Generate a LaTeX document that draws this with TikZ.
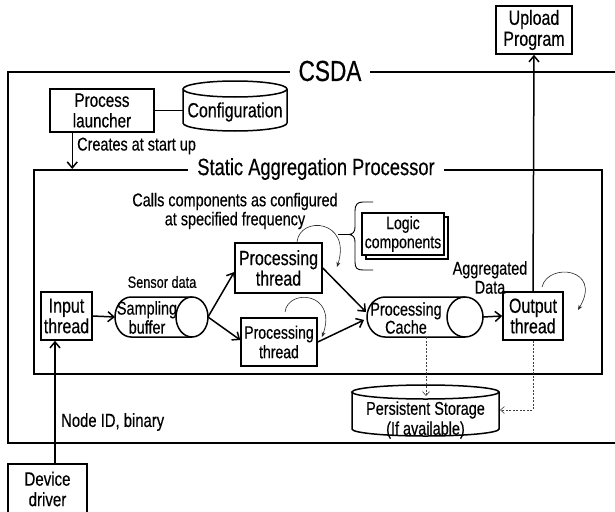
\documentclass[tikz,border=0pt]{standalone}
\usepackage{fontspec}
\setmainfont{Liberation Sans}[FakeStretch=0.78,FakeBold=0.4]
\usetikzlibrary{arrows.meta,calc}
\newcommand{\fsz}[2]{\fontsize{#1}{#2}\selectfont}
\begin{document}
\begin{tikzpicture}[x=1pt,y=-1pt,
  box/.style={draw, line width=1.5pt, fill=white, inner sep=0pt, align=center},
  frame/.style={draw, line width=2pt, inner sep=0pt},
  title/.style={fill=white, inner xsep=9pt, inner ysep=0pt},
  lbl/.style={inner sep=0pt, align=center},
  arr/.style={line width=1.5pt, -{Straight Barb[length=6pt,width=10pt]}},
  cyl/.style={line width=1.5pt},
  loopar/.style={line width=0.6pt, black!85, -{Stealth[length=5pt,width=4pt]}},
  dashar/.style={line width=0.6pt, black!75, dash pattern=on 2pt off 1.5pt, -{Straight Barb[length=4pt,width=7pt]}}
]
\useasboundingbox (0,0) rectangle (615,511);

% frames
\node[frame, minimum width=612pt, minimum height=371pt] (csda) at (314,257.5) {};
\node[frame, minimum width=568pt, minimum height=204pt] (sap) at (318,272) {};
\node[title, font=\fsz{29}{32}] (csdaT) at (330,71) {CSDA};
\node[title, font=\fsz{23.5}{26}] (sapT) at (316,169) {Static Aggregation Processor};

% process launcher and configuration
\node[box, minimum width=104pt, minimum height=43pt, font=\fsz{19.5}{20.5}] (launcher) at (102,110.5) {Process\\launcher};
\draw[cyl, fill=white] (183,89) -- (183,123) .. controls (183,127.4) and (206.3,131) .. (235,131) .. controls (263.7,131) and (287,127.4) .. (287,123) -- (287,89);
\draw[cyl] (235,89) ellipse [x radius=52, y radius=8];
\node[lbl, font=\fsz{20.5}{22}] (config) at (235,112) {Configuration};
\coordinate (cfgW) at (183,110.5);
\draw[line width=1.5pt] (launcher.east) -- (cfgW);

\coordinate (crA) at ([xshift=23pt]launcher.south west);
\draw[arr] (crA) -- (crA |- sap.north);
\node[lbl, anchor=west, font=\fsz{18.5}{20}] (creates) at (77,146) {Creates at start up};

\node[lbl, font=\fsz{18.5}{19}] (calls) at (235,211) {Calls components as configured\\at specified frequency};

% input thread
\node[box, minimum width=51pt, minimum height=48pt, font=\fsz{20.5}{20.5}] (input) at (66.5,316) {Input\\thread};

% sampling buffer
\draw[cyl] (192,297) -- (131,297) .. controls (122.2,297) and (115,306) .. (115,317) .. controls (115,328) and (122.2,337) .. (131,337) -- (192,337);
\draw[cyl] (192,317) ellipse [x radius=16, y radius=20];
\node[lbl, font=\fsz{18.5}{19}] (sbuf) at (147,317.5) {Sampling\\buffer};
\coordinate (sbW) at (115,317);
\coordinate (sbE) at (208,317);
\node[lbl, font=\fsz{16.3}{17}] (sensor) at (162,282) {Sensor data};

% processing threads
\node[box, minimum width=87pt, minimum height=50pt, font=\fsz{20.5}{20.5}] (pt1) at (278.5,268) {Processing\\thread};
\node[box, minimum width=76pt, minimum height=48pt, font=\fsz{18}{19.5}] (pt2) at (279,342) {Processing\\thread};

% logic components
\node[box, line width=1.2pt, minimum width=82pt, minimum height=42pt] (logicback) at (407,238) {};
\node[box, line width=1.2pt, minimum width=82pt, minimum height=42pt, font=\fsz{18}{19}] (logic) at (403,234) {Logic\\components};
\draw[line width=0.9pt] (373,202) -- (363,202) .. controls (357,202) and (355,205) .. (355,211) -- (355,227) .. controls (355,232) and (353,234) .. (349,234.5) .. controls (353,235) and (355,237) .. (355,242) -- (355,262) .. controls (355,268) and (357,270) .. (363,270) -- (373,270);
\coordinate (braceTip) at (349,234.5);
\coordinate (braceL) at (338,234.5);
\draw[line width=0.9pt] (braceL) -- (braceTip);

% processing cache
\draw[cyl] (465,297) -- (385,297) .. controls (375.1,297) and (367,306) .. (367,317) .. controls (367,328) and (375.1,337) .. (385,337) -- (465,337);
\draw[cyl] (465,317) ellipse [x radius=18, y radius=20];
\node[lbl, font=\fsz{18.5}{18}] (cache) at (406,318) {Processing\\Cache};
\coordinate (cacheA) at (366,312);
\coordinate (cacheB) at (364,320);
\coordinate (cacheE) at (483,317);
\coordinate (cacheS) at (426,337);

% output thread and upload
\node[box, minimum width=60pt, minimum height=48pt, font=\fsz{20.5}{20.5}] (output) at (533,316) {Output\\thread};
\node[box, minimum width=76pt, minimum height=48pt, font=\fsz{20.5}{21}] (upload) at (534,30) {Upload\\Program};
\node[lbl, font=\fsz{18.5}{19}] (aggr) at (490,277.5) {Aggregated\\Data};

% persistent storage
\draw[cyl, fill=white] (352,392) -- (352,429) .. controls (352,432.9) and (384.9,436) .. (425.5,436) .. controls (466.1,436) and (499,432.9) .. (499,429) -- (499,392);
\draw[cyl] (425.5,392) ellipse [x radius=73.5, y radius=7];
\node[lbl, font=\fsz{18.5}{20}] (storage) at (425.5,420) {Persistent Storage\\(If available)};
\coordinate (stTop) at (426,396);
\coordinate (stE) at (500,410);

% device driver
\node[box, minimum width=79pt, minimum height=50pt, font=\fsz{19.3}{20.5}] (device) at (47.5,489) {Device\\driver};
\coordinate (devTop) at (55,464);
\node[lbl, anchor=west, font=\fsz{19}{20}] (nodeid) at (61,422) {Node ID, binary};

% connectors
\draw[arr] (devTop) -- (devTop |- input.south);
\draw[arr] (input.east) -- (sbW);
\draw[arr] (sbE) -- ([yshift=-4pt]pt1.west);
\draw[arr] (sbE) -- ([yshift=2pt]pt2.west);
\draw[arr] (pt1.east) -- (cacheA);
\draw[arr] (pt2.east) -- (cacheB);
\draw[arr] (cacheE) -- (output.west);
\draw[arr] (output.north) -- (upload.south);
\draw[dashar] (cacheS) -- (stTop);
\draw[dashar] (output.south) |- (stE);

% loops
\coordinate (l1s) at (297,242);
\coordinate (l1e) at (337,267);
\coordinate (l2s) at (285,312);
\coordinate (l2e) at (322,337);
\coordinate (l3s) at (542,287);
\coordinate (l3e) at (578,310);
\draw[loopar] (l1s) .. controls (300,215) and (352,220) .. (l1e);
\draw[loopar] (l2s) .. controls (288,288) and (338,292) .. (l2e);
\draw[loopar] (l3s) .. controls (548,262) and (603,268) .. (l3e);
\end{tikzpicture}
\end{document}
